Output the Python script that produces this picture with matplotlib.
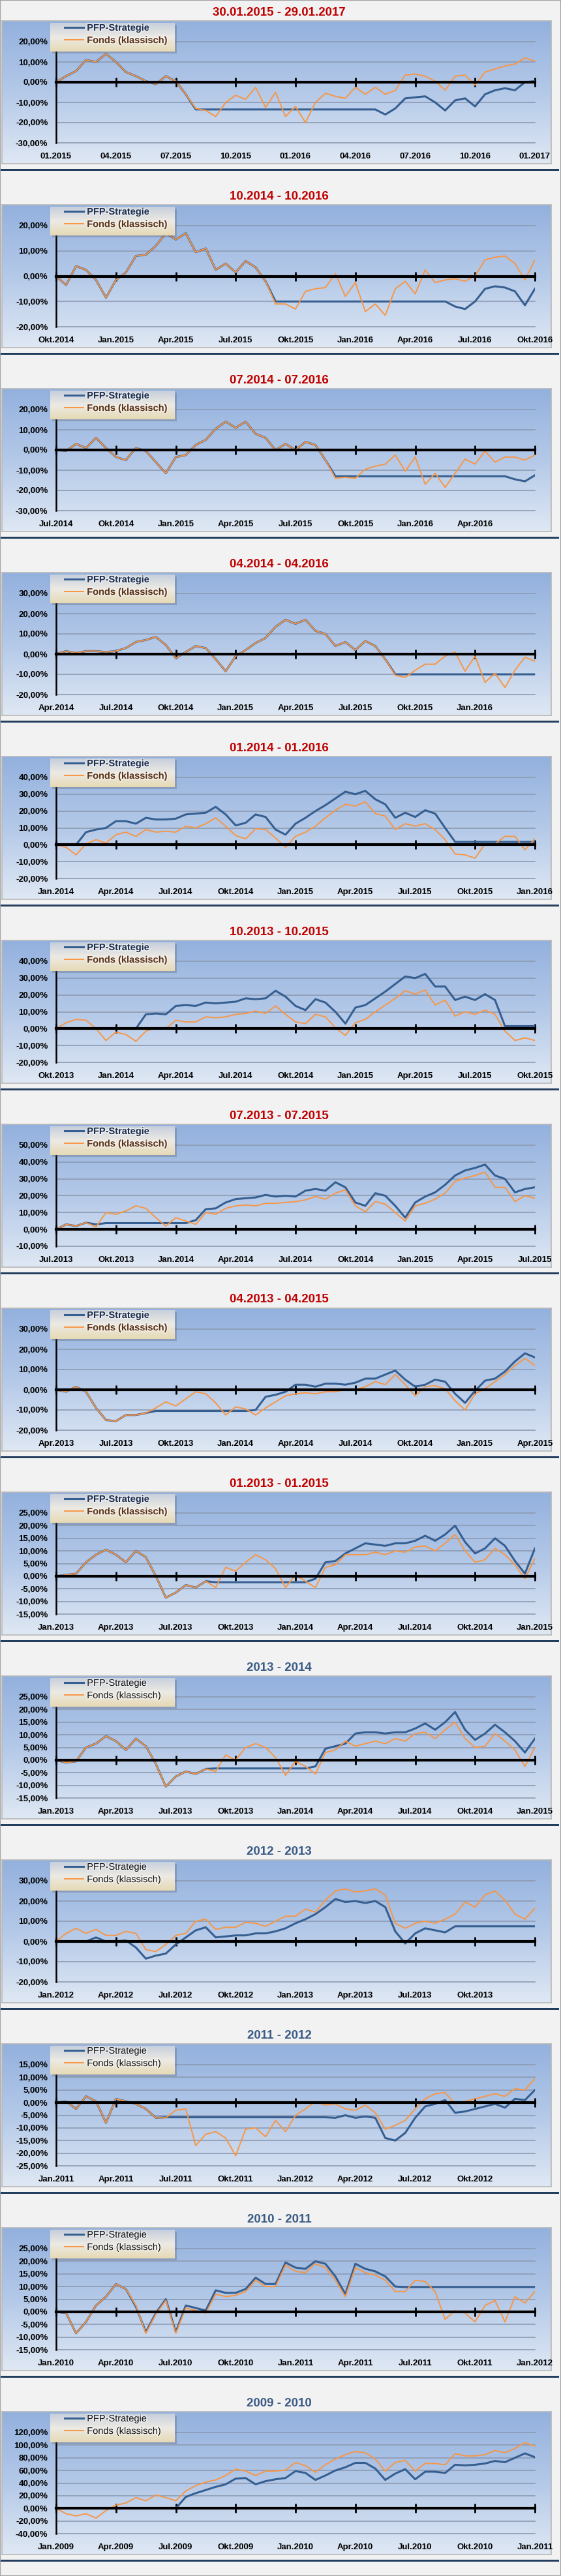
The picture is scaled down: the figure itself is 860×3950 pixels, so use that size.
import numpy as np
import matplotlib
matplotlib.use("Agg")
import matplotlib.pyplot as plt
from matplotlib.colors import LinearSegmentedColormap
from matplotlib.patches import Rectangle
import matplotlib.patheffects as pe

plt.rcParams['font.family'] = ['Liberation Sans', 'DejaVu Sans']

W, H, DPI = 860, 3950, 100

# x grid: half-month samples over the 24-month window of every panel
MONTHS = np.arange(49) / 2.0
TICK_MONTHS = [0, 3, 6, 9, 12, 15, 18, 21, 24]

titles = ["30.01.2015 - 29.01.2017", "10.2014 - 10.2016", "07.2014 - 07.2016",
          "04.2014 - 04.2016", "01.2014 - 01.2016", "10.2013 - 10.2015",
          "07.2013 - 07.2015", "04.2013 - 04.2015", "01.2013 - 01.2015",
          "2013 - 2014", "2012 - 2013", "2011 - 2012", "2010 - 2011", "2009 - 2010"]

# (min, max, step) of the y axis in %
y_ranges = [(-30, 20, 10), (-20, 20, 10), (-30, 20, 10), (-20, 30, 10), (-20, 40, 10),
            (-20, 40, 10), (-10, 50, 10), (-20, 30, 10), (-15, 25, 5), (-15, 25, 5),
            (-20, 30, 10), (-25, 15, 5), (-15, 25, 5), (-40, 120, 20)]

xl_01 = ['01.2015', '04.2015', '07.2015', '10.2015', '01.2016', '04.2016', '07.2016', '10.2016', '01.2017']
xl_02 = ['Okt.2014', 'Jan.2015', 'Apr.2015', 'Jul.2015', 'Okt.2015', 'Jan.2016', 'Apr.2016', 'Jul.2016', 'Okt.2016']
xl_03 = ['Jul.2014', 'Okt.2014', 'Jan.2015', 'Apr.2015', 'Jul.2015', 'Okt.2015', 'Jan.2016', 'Apr.2016', '']
xl_04 = ['Apr.2014', 'Jul.2014', 'Okt.2014', 'Jan.2015', 'Apr.2015', 'Jul.2015', 'Okt.2015', 'Jan.2016', '']
xl_05 = ['Jan.2014', 'Apr.2014', 'Jul.2014', 'Okt.2014', 'Jan.2015', 'Apr.2015', 'Jul.2015', 'Okt.2015', 'Jan.2016']
xl_06 = ['Okt.2013', 'Jan.2014', 'Apr.2014', 'Jul.2014', 'Okt.2014', 'Jan.2015', 'Apr.2015', 'Jul.2015', 'Okt.2015']
xl_07 = ['Jul.2013', 'Okt.2013', 'Jan.2014', 'Apr.2014', 'Jul.2014', 'Okt.2014', 'Jan.2015', 'Apr.2015', 'Jul.2015']
xl_08 = ['Apr.2013', 'Jul.2013', 'Okt.2013', 'Jan.2014', 'Apr.2014', 'Jul.2014', 'Okt.2014', 'Jan.2015', 'Apr.2015']
xl_09 = ['Jan.2013', 'Apr.2013', 'Jul.2013', 'Okt.2013', 'Jan.2014', 'Apr.2014', 'Jul.2014', 'Okt.2014', 'Jan.2015']
xl_10 = ['Jan.2013', 'Apr.2013', 'Jul.2013', 'Okt.2013', 'Jan.2014', 'Apr.2014', 'Jul.2014', 'Okt.2014', 'Jan.2015']
xl_11 = ['Jan.2012', 'Apr.2012', 'Jul.2012', 'Okt.2012', 'Jan.2013', 'Apr.2013', 'Jul.2013', 'Okt.2013', '']
xl_12 = ['Jan.2011', 'Apr.2011', 'Jul.2011', 'Okt.2011', 'Jan.2012', 'Apr.2012', 'Jul.2012', 'Okt.2012', '']
xl_13 = ['Jan.2010', 'Apr.2010', 'Jul.2010', 'Okt.2010', 'Jan.2011', 'Apr.2011', 'Jul.2011', 'Okt.2011', 'Jan.2012']
xl_14 = ['Jan.2009', 'Apr.2009', 'Jul.2009', 'Okt.2009', 'Jan.2010', 'Apr.2010', 'Jul.2010', 'Okt.2010', 'Jan.2011']

# ---- series values in %, read at half-month steps ----
fonds_01 = [0, 3, 5.5, 11, 10, 14, 10, 5, 3, 0.5, -1, 3, 0.5, -6, -13, -14, -17, -10, -6.5, -8.5, -2.5,
            -12.5, -5, -17, -12, -20, -10, -5.5, -7, -8, -2.5, -6, -2.5, -6, -4, 3.5, 4, 3, 0.5, -4, 3,
            3.5, -1.5, 5, 6.5, 8, 9, 12, 10.5]
pfp_01 = [0, 3, 5.5, 11, 10, 14, 10, 5, 3, 0.5, -1, 3, 0.5, -6, -13.5, -13.5, -13.5, -13.5, -13.5, -13.5,
          -13.5, -13.5, -13.5, -13.5, -13.5, -13.5, -13.5, -13.5, -13.5, -13.5, -13.5, -13.5, -13.5, -16,
          -13, -8, -7.5, -7, -10, -14, -9, -8, -12, -6, -4, -3, -4, 0, 0.5]

fonds_02 = [0, -3.5, 4, 2.5, -1.5, -8.5, -1.5, 1.5, 8, 8.5, 12, 17, 14.5, 17, 9.5, 11, 2.5, 5, 1.5, 6, 3.5,
            -2, -11, -11, -13, -6, -5, -4.5, 1, -8, -2.5, -14, -11, -15.5, -5, -2, -7, 2.5, -2.5, -1.5,
            -1, -2, 0, 6.5, 7.5, 8, 5, -1.5, 6.5]
pfp_02 = [0, -3.5, 4, 2.5, -1.5, -8.5, -1.5, 1.5, 8, 8.5, 12, 17, 14.5, 17, 9.5, 11, 2.5, 5, 1.5, 6, 3.5,
          -2, -10, -10, -10, -10, -10, -10, -10, -10, -10, -10, -10, -10, -10, -10, -10, -10, -10, -10,
          -12, -13, -10, -5, -4, -4.5, -6, -11.5, -5]

fonds_03 = [0, -0.5, 3, 1, 6, 1, -3.5, -5, 1, -0.5, -6, -11.5, -3.5, -2.5, 2.5, 5, 10.5, 14, 11, 14, 8,
            6, 0, 3, 0, 4, 2.5, -5, -14, -13.5, -14, -9.5, -8, -7, -2.5, -10.5, -3.5, -17, -11.5, -18.5,
            -11.5, -4.5, -7, -0.5, -6, -3.5, -3.5, -5, -2.5]
pfp_03 = [0, -0.5, 3, 1, 6, 1, -3.5, -5, 1, -0.5, -6, -11.5, -3.5, -2.5, 2.5, 5, 10.5, 14, 11, 14, 8,
          6, 0, 3, 0, 4, 2.5, -5, -13, -13, -13, -13, -13, -13, -13, -13, -13, -13, -13, -13, -13, -13,
          -13, -13, -13, -13, -14.5, -15.5, -12.5]

fonds_04 = [0, 1.5, 0.5, 1.5, 1.5, 1, 1.5, 3, 6, 7, 8.5, 4.5, -2, 1, 4, 3, -2.5, -8.5, -1, 2, 5.5, 8,
            13.5, 17, 15, 17, 11.5, 10, 4, 6, 2, 6.5, 4, -2.5, -10.5, -11.5, -8, -5, -5, -1, 1, -8.5,
            -1, -14, -9.5, -16.5, -8, -1.5, -3.5]
pfp_04 = [0, 1.5, 0.5, 1.5, 1.5, 1, 1.5, 3, 6, 7, 8.5, 4.5, -2, 1, 4, 3, -2.5, -8.5, -1, 2, 5.5, 8,
          13.5, 17, 15, 17, 11.5, 10, 4, 6, 2, 6.5, 4, -2.5, -10, -10, -10, -10, -10, -10, -10, -10,
          -10, -10, -10, -10, -10, -10, -10]

fonds_05 = [0, -1.5, -6, 0.5, 3, 1, 6, 7.5, 5, 9, 7.5, 8, 7.5, 11, 10, 12.5, 16, 11, 5.5, 3.5, 9.5, 9,
            4, -1.5, 5, 7.5, 11, 16, 20.5, 24, 23, 25.5, 18.5, 17, 9, 12.5, 11, 12.5, 9, 3, -5.5, -6,
            -8, 0.5, 0.5, 5, 5, -3, 3.5]
pfp_05 = [0, 0, 0, 7.5, 9, 10, 14, 14, 12.5, 16, 15, 15, 15.5, 18, 18.5, 19, 22.5, 18, 11.5, 13, 18,
          16.5, 9, 6, 12.5, 16, 20, 23.5, 27.5, 31.5, 30, 32, 27, 24, 16, 19, 16.5, 20.5, 18.5, 10,
          1.7, 1.7, 1.7, 1.7, 1.7, 1.7, 1.7, 1.7, 1.7]

fonds_06 = [0, 3.5, 5.5, 5, 0, -7, -2, -3.5, -7.5, -1.5, 0.5, 0, 5, 4, 4, 7, 6.5, 7, 8.5, 9, 10.5, 9,
            13.5, 8.5, 4, 3, 8.5, 7, 0.5, -4, 3.5, 5.5, 10, 14, 18, 22.5, 20.5, 23, 14, 17, 7.5, 10,
            8.5, 11, 8.5, -1.5, -7, -5.5, -7]
pfp_06 = [0, 0, 0, 0, 0, 0, 0, 0, 0, 8.5, 9, 8.5, 13.5, 14, 13.5, 15.5, 15, 15.5, 16, 18, 17.5, 18,
          22.5, 19, 13.5, 11, 17.5, 15.5, 10, 3, 12.5, 14, 18, 22, 26.5, 31, 30, 32.5, 25, 25, 17, 19,
          17, 20.5, 17, 1.5, 1.5, 1.5, 1.5]

fonds_07 = [0, 3, 2, 4, 1.5, 10, 9, 11, 14, 12.5, 7, 2, 7, 5, 3, 10, 9, 12.5, 14, 14.5, 14, 15.5,
            15.5, 16, 16.5, 17.5, 19.5, 18, 21.5, 23.5, 14, 10.5, 16.5, 15, 10, 5, 14, 15.5, 18, 21.5,
            28.5, 30.5, 32, 34, 25, 25, 16.5, 20, 18.5]
pfp_07 = [0, 3, 2, 4, 3, 3.75, 3.75, 3.75, 3.75, 3.75, 3.75, 3.75, 3.75, 3.75, 5.5, 12, 12.5, 16, 18,
          18.5, 19, 20.5, 19.5, 20, 19.5, 23, 24, 23, 28, 25, 16, 14, 21.5, 20, 14, 7, 16, 19.5, 22,
          26.5, 32, 35, 36.5, 38.5, 32, 30, 22, 24, 25]

fonds_08 = [0, -1, 1.5, -1, -9, -15, -15.5, -12.5, -12.5, -11.5, -9, -6, -8, -4.5, -1, -2, -6.5, -12.5,
            -8.5, -9.5, -12.5, -9, -6, -3, -2, -1.5, -2, -1, -1, 0, 0, 1.5, 4, 2.5, 7.5, 2.5, -3, 1.5,
            2, 0.5, -5.5, -10, -2, 0.5, 4, 7.5, 12, 15.5, 12]
pfp_08 = [0, -1, 1.5, -1, -9, -15, -15.5, -12.5, -12.5, -11.5, -10.5, -10.5, -10.5, -10.5, -10.5,
          -10.5, -10.5, -10.5, -10.5, -10.5, -10, -3.5, -2.5, -1, 2.5, 2.5, 1.5, 3, 3, 2.5, 3.5, 5.5,
          5.5, 7.5, 9.5, 5, 1.5, 2.5, 5, 4, -2, -6.5, -0.5, 4.5, 5.5, 9, 14, 18, 16]

fonds_09 = [0, 0.5, 1, 5.5, 8.5, 10.5, 8.5, 5.5, 10, 7.5, 0, -8.5, -6.5, -3.5, -4.5, -2, -4.5, 3.5, 2,
            5.5, 8.5, 6.5, 3, -4.5, 0.5, -2, -4.5, 3.5, 4.5, 8.5, 8.5, 8.5, 9.5, 8.5, 10, 9.5, 11.5, 12,
            10, 13, 16.5, 10, 5.5, 6.5, 11, 8.5, 4.5, -1, 7]
pfp_09 = [0, 0.5, 1, 5.5, 8.5, 10.5, 8.5, 5.5, 10, 7.5, 0, -8.5, -6.5, -3.5, -4.5, -2, -2.4, -2.4, -2.4,
          -2.4, -2.4, -2.4, -2.4, -2.4, -2.4, -2.4, -1, 5.5, 6, 9, 11, 13, 12.5, 12, 13, 13, 14, 16, 14,
          16.5, 20, 13.5, 9, 11, 15, 12, 6, 1, 11]

fonds_10 = [0, -1, -0.5, 5, 6.5, 9.5, 7.5, 4, 8.5, 5.5, -1.5, -10.5, -6.5, -4.5, -5.5, -3.5, -4.5, 2, 0,
            5, 6.5, 5, 1, -6, -0.5, -2.5, -5.5, 3, 4, 7.5, 5.5, 6.5, 7.5, 6.5, 8.5, 7.5, 10.5, 11, 8.5,
            12, 15, 8.5, 5, 5.5, 10.5, 7.5, 4, -2.5, 5]
pfp_10 = [0, -1, -0.5, 5, 6.5, 9.5, 7.5, 4, 8.5, 5.5, -1.5, -10.5, -6.5, -4.5, -5.5, -3.5, -3.3, -3.3,
          -3.3, -3.3, -3.3, -3.3, -3.3, -3.3, -3.3, -3.3, -2.5, 4.5, 5.5, 6.5, 10.5, 11, 11, 10.5, 11,
          11, 12.5, 14.5, 12, 15, 19, 12, 8, 10.5, 14, 11, 7.5, 3, 8.5]

fonds_11 = [0, 4, 6.5, 4, 6, 3, 3, 5, 4, -4, -5, -1.5, 3, 4, 10, 11, 6, 7, 7, 9.5, 9, 7.5, 10, 12.5,
            12.5, 16, 14.5, 20.5, 25, 26, 24.5, 25, 26, 23, 9, 6.5, 9, 10, 9, 11, 13.5, 19.5, 17, 23,
            25, 20.5, 13.5, 11, 16.5]
pfp_11 = [0, 0, 0, 0, 2, 0, 0, 0.5, -3, -8.5, -7, -6, -1.5, 2, 5.5, 7, 2, 2.5, 3, 3, 4, 4, 5, 6.5, 9,
          11, 13.5, 17, 21, 19.5, 20, 19, 20, 17, 5, -1, 4, 6.5, 5.5, 4.5, 7.5, 7.5, 7.5, 7.5, 7.5,
          7.5, 7.5, 7.5, 7.5]

fonds_12 = [0, 0.5, -2.5, 2.5, 0.5, -8, 1.5, 0.5, -0.5, -2.5, -6, -6, -3, -2.5, -17, -12.5, -11.5, -14,
            -21, -10.5, -10, -13.5, -7, -11.5, -5, -2.5, 0.5, -1, -0.5, -2.5, -3, -1, -4, -10.5, -9,
            -7, -2.5, 1.5, 3.5, 4, -0.5, 0.5, 1.5, 2.5, 3.5, 2.5, 5.5, 5, 9.5]
pfp_12 = [0, 0.5, -2.5, 2.5, 0.5, -8, 1.5, 0.5, -0.5, -2.5, -6, -5.8, -5.8, -5.8, -5.8, -5.8, -5.8,
          -5.8, -5.8, -5.8, -5.8, -5.8, -5.8, -5.8, -5.8, -5.8, -5.8, -5.8, -6, -5, -6, -5.5, -6, -14,
          -15, -12, -6, -1.5, -0.5, 1, -4, -3.5, -2.5, -1.5, -0.5, -2, 1.5, 1, 5]

fonds_13 = [0, -0.5, -8.5, -4, 2.5, 6, 11, 9, 2.5, -8.5, -1, 4.5, -8.5, 1.5, 0.5, -0.5, 7, 6, 6.5, 8,
            12.5, 10, 10, 18.5, 16, 15.5, 19, 17.5, 12.5, 6, 17.5, 15.5, 14.5, 12.5, 8, 8, 12.5, 12, 8,
            -3, 0.5, -0.5, -4, 2.5, 4.5, -4, 6, 3.5, 8]
pfp_13 = [0, -0.5, -8.5, -4, 2.5, 6, 11, 9, 2, -8, -0.5, 5, -8, 2.5, 1.5, 0.5, 8.5, 7.5, 7.5, 9, 13.5,
          11, 11, 19.5, 17.5, 17, 20, 19, 14, 7, 19, 17, 16, 14, 10, 9.8, 9.8, 9.8, 9.8, 9.8, 9.8,
          9.8, 9.8, 9.8, 9.8, 9.8, 9.8, 9.8, 9.8]

fonds_14 = [0, -8.5, -12, -8.5, -15.5, -3.5, 5, 8.5, 17, 12, 21, 17, 12, 27.5, 36, 41.5, 45, 52, 62,
            59, 52, 59, 59, 60.5, 72.5, 67.5, 57, 69, 78, 85, 90, 88, 78, 59, 72.5, 76, 59, 71, 71, 69,
            86.5, 83, 83, 85, 91.5, 88, 95, 104, 98.5]
pfp_14 = [0, 0, 0, 0, 0, 0, 0, 0, 0, 0, 0, 0, 0, 18, 24, 29, 34, 38, 47, 48, 38, 43, 46, 48, 59, 56,
          45, 52, 60, 65, 72, 72, 63, 45, 55, 62, 46, 58, 58, 56, 69, 68, 69, 71, 75, 73, 80, 87, 81]

fonds_all = [fonds_01, fonds_02, fonds_03, fonds_04, fonds_05, fonds_06, fonds_07,
             fonds_08, fonds_09, fonds_10, fonds_11, fonds_12, fonds_13, fonds_14]
pfp_all = [pfp_01, pfp_02, pfp_03, pfp_04, pfp_05, pfp_06, pfp_07,
           pfp_08, pfp_09, pfp_10, pfp_11, pfp_12, pfp_13, pfp_14]
xlabels_all = [xl_01, xl_02, xl_03, xl_04, xl_05, xl_06, xl_07,
               xl_08, xl_09, xl_10, xl_11, xl_12, xl_13, xl_14]

# ---- styling ----
BG = '#f2f2f2'
BLUE = '#365f91'
ORANGE = '#f79646'
box_cmap = LinearSegmentedColormap.from_list('box', ['#93b1de', '#b4c9e8', '#dfe8f4'])
leg_cmap = LinearSegmentedColormap.from_list('leg', ['#c6cfdc', '#eceae4', '#e6d9b4'])
grad = np.linspace(0, 1, 256)[:, None]

fig = plt.figure(figsize=(W / DPI, H / DPI), dpi=DPI, facecolor=BG)


def px_axes(x, y, w, h):
    return fig.add_axes([x / W, 1 - (y + h) / H, w / W, h / H])


def pct(v):
    return ('%.2f' % v).replace('.', ',') + '%'


for k in range(14):
    top = -22 + 282 * k
    ymin, ymax, step = y_ranges[k]

    # title
    tcol = '#c00000' if k < 9 else '#3b5b86'
    fig.text(428 / W, 1 - (top + 41) / H, titles[k], ha='center', va='center',
             fontsize=13.5, fontweight='bold', color=tcol)

    # chart box with gradient
    bx = px_axes(3, top + 54, 842, 219)
    bx.imshow(grad, aspect='auto', cmap=box_cmap, extent=[0, 1, 0, 1], origin='upper')
    bx.set_xticks([]); bx.set_yticks([])
    for s in bx.spines.values():
        s.set_color('#b8b8b8'); s.set_linewidth(1.2)

    # plot area
    ax = px_axes(86, top + 86, 734, 155)
    ax.patch.set_alpha(0)
    l_pfp, = ax.plot(MONTHS, pfp_all[k], color=BLUE, lw=2.2, solid_joinstyle='round', zorder=3)
    l_fonds, = ax.plot(MONTHS, fonds_all[k], color=ORANGE, lw=1.4, solid_joinstyle='round', zorder=4)
    ax.set_xlim(0, 24)
    ax.set_ylim(ymin, ymax)
    yt = list(range(ymin, ymax + 1, step))
    ax.set_yticks(yt)
    ax.set_yticklabels([pct(v) for v in yt], fontsize=9.5, fontweight='bold')
    ax.tick_params(axis='y', length=0, pad=9)
    ax.grid(axis='y', color='#8d9bb3', lw=1.2, zorder=1)
    for gl in ax.get_ygridlines():
        gl.set_clip_on(False)
    ax.set_xticks(TICK_MONTHS)
    ax.tick_params(axis='x', direction='inout', length=10, width=2, color='black',
                   labelbottom=False)
    ax.spines['bottom'].set_position(('data', 0))
    ax.spines['bottom'].set_linewidth(3)
    ax.spines['bottom'].set_zorder(5)
    ax.spines['left'].set_linewidth(1.8)
    ax.spines['top'].set_visible(False)
    ax.spines['right'].set_visible(False)

    sec = ax.secondary_xaxis('bottom')
    sec.set_xticks(TICK_MONTHS)
    sec.set_xticklabels(xlabels_all[k], fontsize=9.5, fontweight='bold')
    sec.tick_params(length=0, pad=11)
    sec.spines['bottom'].set_visible(False)

    # legend shadow + legend box
    sh = px_axes(80, top + 60, 191, 44)
    sh.set_facecolor((0.35, 0.35, 0.4, 0.30))
    sh.set_xticks([]); sh.set_yticks([])
    for s in sh.spines.values():
        s.set_visible(False)
    lax = px_axes(77, top + 57, 191, 44)
    lax.imshow(grad, aspect='auto', cmap=leg_cmap, extent=[0, 1, 0, 1], origin='upper')
    lax.set_xticks([]); lax.set_yticks([])
    for s in lax.spines.values():
        s.set_visible(False)
    leg = lax.legend([l_pfp, l_fonds], ['PFP-Strategie', 'Fonds (klassisch)'],
                     loc='upper left', bbox_to_anchor=(22 / 191, 1 - 1 / 44), frameon=False,
                     borderpad=0, borderaxespad=0, handlelength=2.0, handletextpad=0.35,
                     labelspacing=0.35,
                     prop={'size': 10.5, 'weight': 'bold' if k < 9 else 'normal'})
    tc = ['#1f3050', '#5c3317'] if k < 9 else ['#1a1a1a', '#1a1a1a']
    for t, c in zip(leg.get_texts(), tc):
        t.set_color(c)
        t.set_path_effects([pe.withStroke(linewidth=2.2, foreground='white', alpha=0.55)])

    # separator
    fig.add_artist(Rectangle((0, 1 - (top + 284) / H), 857 / W, 3.5 / H,
                             transform=fig.transFigure, color='#233e5f', lw=0))

fig.add_artist(Rectangle((0, 0), 1, 1, transform=fig.transFigure, fill=False,
                         ec='#a0a0a0', lw=1.5))

fig.savefig('out.png', dpi=DPI, facecolor=BG)
